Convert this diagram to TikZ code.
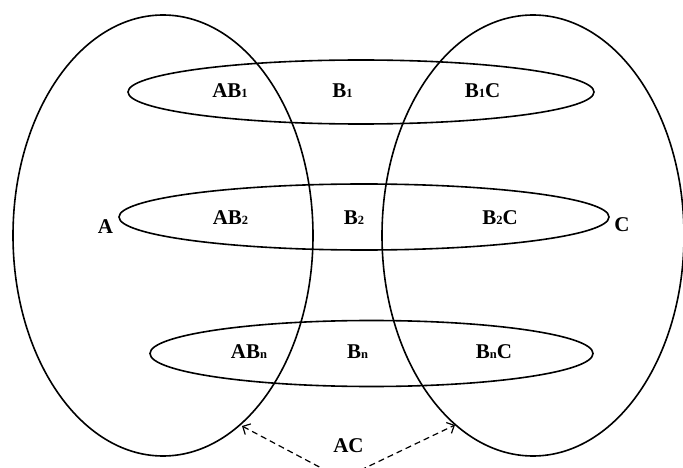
\documentclass[tikz,border=0pt]{standalone}
\usepackage{fontspec}
\setmainfont{Liberation Serif}
\usepackage{tikz}
\usetikzlibrary{arrows.meta}
\newcommand{\lowidx}[1]{{\fontsize{12.5}{14}\selectfont #1}}
\tikzset{
  ring/.style={draw,line width=1.6pt},
  lbl/.style={font=\fontsize{21}{25}\selectfont\bfseries,inner sep=0pt},
  acarr/.style={{Straight Barb[length=6pt,width=12pt]}-{Straight Barb[length=6pt,width=12pt]},
    line width=1.2pt,dash pattern=on 6pt off 4pt,rounded corners=14pt},
}
\begin{document}
\begin{tikzpicture}[x=1pt,y=-1pt]
\useasboundingbox (0,0) rectangle (683,468);
\clip (0,0) rectangle (683,468);
\fill[white] (0,0) rectangle (683,468);
% the two big sets
\draw[ring] (163,235.5) ellipse[x radius=150,y radius=220.5];
\draw[ring] (533,235.5) ellipse[x radius=151,y radius=220.5];
% the B layers
\draw[ring] (361,92) ellipse[x radius=233,y radius=32];
\draw[ring] (364,217) ellipse[x radius=245,y radius=33];
\draw[ring] (371.5,353.5) ellipse[x radius=221.5,y radius=33];
% labels
\node[lbl] (a) at (105.5,227) {A};
\node[lbl] (c) at (622,224.5) {C};
\node[lbl] (ab1) at (230,90.5) {AB\lowidx{1}};
\node[lbl] (b1) at (342.5,90.5) {B\lowidx{1}};
\node[lbl] (b1c) at (482.5,90.5) {B\lowidx{1}C};
\node[lbl] (ab2) at (230.5,218) {AB\lowidx{2}};
\node[lbl] (b2) at (354,218) {B\lowidx{2}};
\node[lbl] (b2c) at (500,218) {B\lowidx{2}C};
\node[lbl] (abn) at (249,352) {AB\lowidx{n}};
\node[lbl] (bn) at (357.5,352) {B\lowidx{n}};
\node[lbl] (bnc) at (494,352) {B\lowidx{n}C};
\node[lbl] (ac) at (348.5,445.5) {AC};
% the AC link
\coordinate (tipl) at (242,426);
\coordinate (tipr) at (455,425);
\coordinate (acbot) at (342,479);
\draw[acarr] (tipl) -- (acbot) -- (tipr);
\end{tikzpicture}
\end{document}
